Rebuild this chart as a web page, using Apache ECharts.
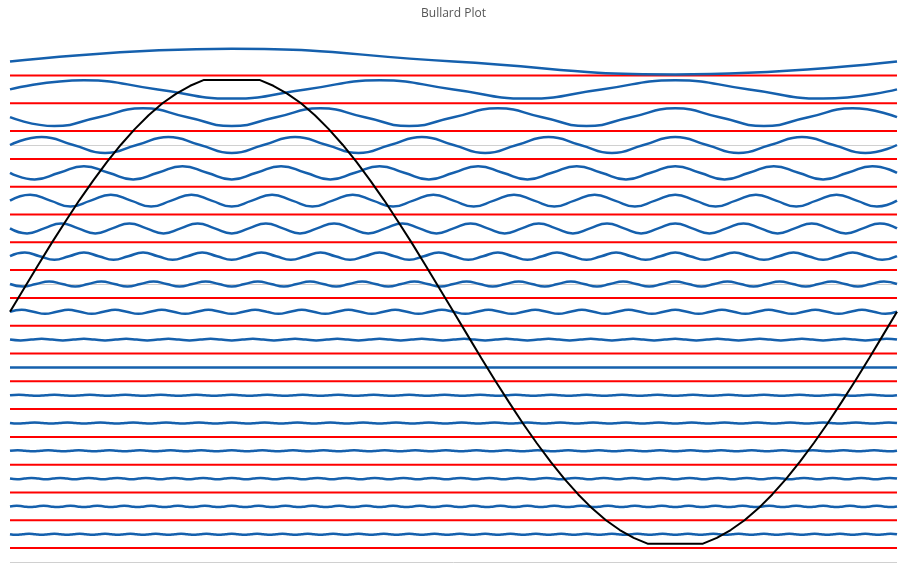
<!DOCTYPE html>
<html>
<head>
<meta charset="utf-8">
<title>Bullard Plot</title>
<script src="https://cdn.jsdelivr.net/npm/echarts@6/dist/echarts.min.js"></script>
<style>
html,body{margin:0;padding:0;background:#fff;}
#chart{width:907px;height:571px;}
</style>
</head>
<body>
<div id="chart"></div>
<script>
// ---- data ----
const chartTitle = 'Bullard Plot';

// red reference levels
const redLevels = [0.5, 1.5, 2.5, 3.5, 4.5, 5.5, 6.5, 7.5, 8.5, 9.5, 10.5, 11.5, 12.5, 13.5, 14.5, 15.5, 16.5, 17.5];

// black curve, 65 evenly spaced samples over 0..360 degrees
const blackCurve = [
  9.00, 9.83, 10.66, 11.47, 12.25, 13.01, 13.72, 14.39, 15.01, 15.57, 16.07, 16.50, 16.85, 17.13, 17.34, 17.34,
  17.34, 17.34, 17.34, 17.13, 16.85, 16.50, 16.07, 15.57, 15.01, 14.39, 13.72, 13.01, 12.25, 11.47, 10.66, 9.83,
  9.00, 8.17, 7.34, 6.53, 5.75, 4.99, 4.28, 3.61, 2.99, 2.43, 1.93, 1.50, 1.15, 0.87, 0.66, 0.66,
  0.66, 0.66, 0.66, 0.87, 1.15, 1.50, 1.93, 2.43, 2.99, 3.61, 4.28, 4.99, 5.75, 6.53, 7.34, 8.17,
  9.00
];

// blue rows: values at quarter-wave points, evenly spaced over 0..360 degrees
const row18 = [18, 18.46, 18, 17.54, 18];
const row17 = [17, 17.33, 17, 16.67, 17, 17.33, 17, 16.67, 17, 17.33, 17, 16.67, 17];
const row16 = [
  16, 15.68, 16, 16.32, 16, 15.68, 16, 16.32, 16, 15.68, 16, 16.32, 16, 15.68, 16, 16.32, 16, 15.68, 16, 16.32,
  16
];
const row15 = [
  15, 15.29, 15, 14.71, 15, 15.29, 15, 14.71, 15, 15.29, 15, 14.71, 15, 15.29, 15, 14.71, 15, 15.29, 15, 14.71,
  15, 15.29, 15, 14.71, 15, 15.29, 15, 14.71,
  15
];
const row14 = [
  14, 13.76, 14, 14.24, 14, 13.76, 14, 14.24, 14, 13.76, 14, 14.24, 14, 13.76, 14, 14.24, 14, 13.76, 14, 14.24,
  14, 13.76, 14, 14.24, 14, 13.76, 14, 14.24, 14, 13.76, 14, 14.24, 14, 13.76, 14, 14.24,
  14
];
const row13 = [
  13, 13.21, 13, 12.79, 13, 13.21, 13, 12.79, 13, 13.21, 13, 12.79, 13, 13.21, 13, 12.79, 13, 13.21, 13, 12.79,
  13, 13.21, 13, 12.79, 13, 13.21, 13, 12.79, 13, 13.21, 13, 12.79, 13, 13.21, 13, 12.79, 13, 13.21, 13, 12.79,
  13, 13.21, 13, 12.79,
  13
];
const row12 = [
  12, 11.82, 12, 12.18, 12, 11.82, 12, 12.18, 12, 11.82, 12, 12.18, 12, 11.82, 12, 12.18, 12, 11.82, 12, 12.18,
  12, 11.82, 12, 12.18, 12, 11.82, 12, 12.18, 12, 11.82, 12, 12.18, 12, 11.82, 12, 12.18, 12, 11.82, 12, 12.18,
  12, 11.82, 12, 12.18, 12, 11.82, 12, 12.18, 12, 11.82, 12, 12.18,
  12
];
const row11 = [
  11, 11.13, 11, 10.87, 11, 11.13, 11, 10.87, 11, 11.13, 11, 10.87, 11, 11.13, 11, 10.87, 11, 11.13, 11, 10.87,
  11, 11.13, 11, 10.87, 11, 11.13, 11, 10.87, 11, 11.13, 11, 10.87, 11, 11.13, 11, 10.87, 11, 11.13, 11, 10.87,
  11, 11.13, 11, 10.87, 11, 11.13, 11, 10.87, 11, 11.13, 11, 10.87, 11, 11.13, 11, 10.87, 11, 11.13, 11, 10.87,
  11
];
const row10 = [
  10, 9.91, 10, 10.09, 10, 9.91, 10, 10.09, 10, 9.91, 10, 10.09, 10, 9.91, 10, 10.09, 10, 9.91, 10, 10.09,
  10, 9.91, 10, 10.09, 10, 9.91, 10, 10.09, 10, 9.91, 10, 10.09, 10, 9.91, 10, 10.09, 10, 9.91, 10, 10.09,
  10, 9.91, 10, 10.09, 10, 9.91, 10, 10.09, 10, 9.91, 10, 10.09, 10, 9.91, 10, 10.09, 10, 9.91, 10, 10.09,
  10, 9.91, 10, 10.09, 10, 9.91, 10, 10.09,
  10
];
const row9 = [
  9, 9.07, 9, 8.93, 9, 9.07, 9, 8.93, 9, 9.07, 9, 8.93, 9, 9.07, 9, 8.93, 9, 9.07, 9, 8.93,
  9, 9.07, 9, 8.93, 9, 9.07, 9, 8.93, 9, 9.07, 9, 8.93, 9, 9.07, 9, 8.93, 9, 9.07, 9, 8.93,
  9, 9.07, 9, 8.93, 9, 9.07, 9, 8.93, 9, 9.07, 9, 8.93, 9, 9.07, 9, 8.93, 9, 9.07, 9, 8.93,
  9, 9.07, 9, 8.93, 9, 9.07, 9, 8.93, 9, 9.07, 9, 8.93, 9, 9.07, 9, 8.93,
  9
];
const row8 = [
  8, 7.97, 8, 8.03, 8, 7.97, 8, 8.03, 8, 7.97, 8, 8.03, 8, 7.97, 8, 8.03, 8, 7.97, 8, 8.03,
  8, 7.97, 8, 8.03, 8, 7.97, 8, 8.03, 8, 7.97, 8, 8.03, 8, 7.97, 8, 8.03, 8, 7.97, 8, 8.03,
  8, 7.97, 8, 8.03, 8, 7.97, 8, 8.03, 8, 7.97, 8, 8.03, 8, 7.97, 8, 8.03, 8, 7.97, 8, 8.03,
  8, 7.97, 8, 8.03, 8, 7.97, 8, 8.03, 8, 7.97, 8, 8.03, 8, 7.97, 8, 8.03, 8, 7.97, 8, 8.03,
  8, 7.97, 8, 8.03,
  8
];
const row7 = [7, 7];
const row6 = [
  6, 6.02, 6, 5.98, 6, 6.02, 6, 5.98, 6, 6.02, 6, 5.98, 6, 6.02, 6, 5.98, 6, 6.02, 6, 5.98,
  6, 6.02, 6, 5.98, 6, 6.02, 6, 5.98, 6, 6.02, 6, 5.98, 6, 6.02, 6, 5.98, 6, 6.02, 6, 5.98,
  6, 6.02, 6, 5.98, 6, 6.02, 6, 5.98, 6, 6.02, 6, 5.98, 6, 6.02, 6, 5.98, 6, 6.02, 6, 5.98,
  6, 6.02, 6, 5.98, 6, 6.02, 6, 5.98, 6, 6.02, 6, 5.98, 6, 6.02, 6, 5.98, 6, 6.02, 6, 5.98,
  6, 6.02, 6, 5.98, 6, 6.02, 6, 5.98, 6, 6.02, 6, 5.98, 6, 6.02, 6, 5.98, 6, 6.02, 6, 5.98,
  6
];
const row5 = [
  5, 4.98, 5, 5.02, 5, 4.98, 5, 5.02, 5, 4.98, 5, 5.02, 5, 4.98, 5, 5.02, 5, 4.98, 5, 5.02,
  5, 4.98, 5, 5.02, 5, 4.98, 5, 5.02, 5, 4.98, 5, 5.02, 5, 4.98, 5, 5.02, 5, 4.98, 5, 5.02,
  5, 4.98, 5, 5.02, 5, 4.98, 5, 5.02, 5, 4.98, 5, 5.02, 5, 4.98, 5, 5.02, 5, 4.98, 5, 5.02,
  5, 4.98, 5, 5.02, 5, 4.98, 5, 5.02, 5, 4.98, 5, 5.02, 5, 4.98, 5, 5.02, 5, 4.98, 5, 5.02,
  5, 4.98, 5, 5.02, 5, 4.98, 5, 5.02, 5, 4.98, 5, 5.02, 5, 4.98, 5, 5.02, 5, 4.98, 5, 5.02,
  5, 4.98, 5, 5.02, 5, 4.98, 5, 5.02,
  5
];
const row4 = [
  4, 4.02, 4, 3.98, 4, 4.02, 4, 3.98, 4, 4.02, 4, 3.98, 4, 4.02, 4, 3.98, 4, 4.02, 4, 3.98,
  4, 4.02, 4, 3.98, 4, 4.02, 4, 3.98, 4, 4.02, 4, 3.98, 4, 4.02, 4, 3.98, 4, 4.02, 4, 3.98,
  4, 4.02, 4, 3.98, 4, 4.02, 4, 3.98, 4, 4.02, 4, 3.98, 4, 4.02, 4, 3.98, 4, 4.02, 4, 3.98,
  4, 4.02, 4, 3.98, 4, 4.02, 4, 3.98, 4, 4.02, 4, 3.98, 4, 4.02, 4, 3.98, 4, 4.02, 4, 3.98,
  4, 4.02, 4, 3.98, 4, 4.02, 4, 3.98, 4, 4.02, 4, 3.98, 4, 4.02, 4, 3.98, 4, 4.02, 4, 3.98,
  4, 4.02, 4, 3.98, 4, 4.02, 4, 3.98, 4, 4.02, 4, 3.98, 4, 4.02, 4, 3.98,
  4
];
const row3 = [
  3, 2.98, 3, 3.02, 3, 2.98, 3, 3.02, 3, 2.98, 3, 3.02, 3, 2.98, 3, 3.02, 3, 2.98, 3, 3.02,
  3, 2.98, 3, 3.02, 3, 2.98, 3, 3.02, 3, 2.98, 3, 3.02, 3, 2.98, 3, 3.02, 3, 2.98, 3, 3.02,
  3, 2.98, 3, 3.02, 3, 2.98, 3, 3.02, 3, 2.98, 3, 3.02, 3, 2.98, 3, 3.02, 3, 2.98, 3, 3.02,
  3, 2.98, 3, 3.02, 3, 2.98, 3, 3.02, 3, 2.98, 3, 3.02, 3, 2.98, 3, 3.02, 3, 2.98, 3, 3.02,
  3, 2.98, 3, 3.02, 3, 2.98, 3, 3.02, 3, 2.98, 3, 3.02, 3, 2.98, 3, 3.02, 3, 2.98, 3, 3.02,
  3, 2.98, 3, 3.02, 3, 2.98, 3, 3.02, 3, 2.98, 3, 3.02, 3, 2.98, 3, 3.02, 3, 2.98, 3, 3.02,
  3, 2.98, 3, 3.02,
  3
];
const row2 = [
  2, 2.02, 2, 1.98, 2, 2.02, 2, 1.98, 2, 2.02, 2, 1.98, 2, 2.02, 2, 1.98, 2, 2.02, 2, 1.98,
  2, 2.02, 2, 1.98, 2, 2.02, 2, 1.98, 2, 2.02, 2, 1.98, 2, 2.02, 2, 1.98, 2, 2.02, 2, 1.98,
  2, 2.02, 2, 1.98, 2, 2.02, 2, 1.98, 2, 2.02, 2, 1.98, 2, 2.02, 2, 1.98, 2, 2.02, 2, 1.98,
  2, 2.02, 2, 1.98, 2, 2.02, 2, 1.98, 2, 2.02, 2, 1.98, 2, 2.02, 2, 1.98, 2, 2.02, 2, 1.98,
  2, 2.02, 2, 1.98, 2, 2.02, 2, 1.98, 2, 2.02, 2, 1.98, 2, 2.02, 2, 1.98, 2, 2.02, 2, 1.98,
  2, 2.02, 2, 1.98, 2, 2.02, 2, 1.98, 2, 2.02, 2, 1.98, 2, 2.02, 2, 1.98, 2, 2.02, 2, 1.98,
  2, 2.02, 2, 1.98, 2, 2.02, 2, 1.98, 2, 2.02, 2, 1.98,
  2
];
const row1 = [
  1, 0.98, 1, 1.02, 1, 0.98, 1, 1.02, 1, 0.98, 1, 1.02, 1, 0.98, 1, 1.02, 1, 0.98, 1, 1.02,
  1, 0.98, 1, 1.02, 1, 0.98, 1, 1.02, 1, 0.98, 1, 1.02, 1, 0.98, 1, 1.02, 1, 0.98, 1, 1.02,
  1, 0.98, 1, 1.02, 1, 0.98, 1, 1.02, 1, 0.98, 1, 1.02, 1, 0.98, 1, 1.02, 1, 0.98, 1, 1.02,
  1, 0.98, 1, 1.02, 1, 0.98, 1, 1.02, 1, 0.98, 1, 1.02, 1, 0.98, 1, 1.02, 1, 0.98, 1, 1.02,
  1, 0.98, 1, 1.02, 1, 0.98, 1, 1.02, 1, 0.98, 1, 1.02, 1, 0.98, 1, 1.02, 1, 0.98, 1, 1.02,
  1, 0.98, 1, 1.02, 1, 0.98, 1, 1.02, 1, 0.98, 1, 1.02, 1, 0.98, 1, 1.02, 1, 0.98, 1, 1.02,
  1, 0.98, 1, 1.02, 1, 0.98, 1, 1.02, 1, 0.98, 1, 1.02, 1, 0.98, 1, 1.02, 1, 0.98, 1, 1.02,
  1
];
const blueRows = [row18, row17, row16, row15, row14, row13, row12, row11, row10,
                  row9, row8, row7, row6, row5, row4, row3, row2, row1];

// ---- build options ----
const X_MAX = 360;
function spread(values) {
  const n = values.length - 1;
  return values.map((v, i) => [i * X_MAX / n, v]);
}

const series = [];
redLevels.forEach((lv) => {
  series.push({
    type: 'line', data: [[0, lv], [X_MAX, lv]], symbol: 'none', silent: true, z: 2,
    lineStyle: { color: '#ff0000', width: 2 }
  });
});
blueRows.forEach((row) => {
  series.push({
    type: 'line', data: spread(row), symbol: 'none', smooth: true, silent: true, z: 3,
    lineStyle: { color: '#1560ad', width: 2.5 }
  });
});
series.push({
  type: 'line', data: spread(blackCurve), symbol: 'none', silent: true, z: 4,
  lineStyle: { color: '#000000', width: 2 }
});

const chart = echarts.init(document.getElementById('chart'), null, { renderer: 'canvas' });
chart.setOption({
  animation: false,
  backgroundColor: '#ffffff',
  title: {
    text: chartTitle, left: 'center', top: 8, padding: 0,
    textStyle: { fontSize: 12, fontWeight: 'normal', color: '#555555', fontFamily: 'Open Sans' }
  },
  grid: { left: 10, right: 10, top: 6, bottom: 9, containLabel: false },
  xAxis: { type: 'value', min: 0, max: X_MAX, show: false },
  yAxis: {
    type: 'value', min: 0, max: 20, interval: 5,
    axisLabel: { show: false }, axisLine: { show: false }, axisTick: { show: false },
    splitLine: { show: true, showMaxLine: false, lineStyle: { color: '#d0d0d0', width: 1 } }
  },
  series: series
});
</script>
</body>
</html>
